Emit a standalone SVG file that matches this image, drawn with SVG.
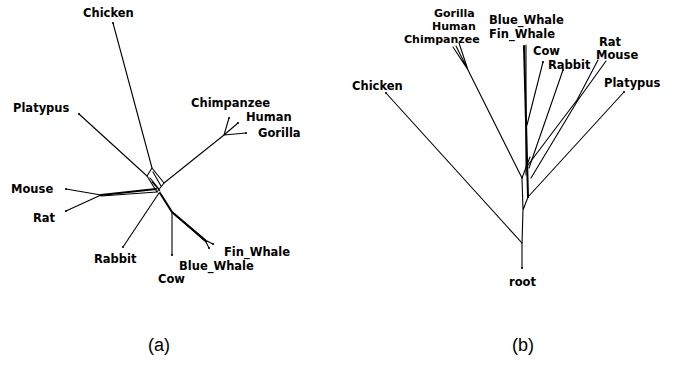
<svg xmlns="http://www.w3.org/2000/svg" width="674" height="365" viewBox="0 0 674 365">
<style>
.lbl{font-family:"DejaVu Sans",Verdana,sans-serif;font-weight:bold;font-size:11.5px;fill:#000}
.sm{font-size:11px}
.cap{font-family:"Liberation Sans",Arial,sans-serif;font-size:18px;fill:#000}
.e{stroke:#000;stroke-width:1.1;fill:none;stroke-linecap:round;stroke-linejoin:round}
.t{stroke:#000;stroke-width:2;fill:none;stroke-linecap:round}
.d{fill:#000}
</style>
<rect width="674" height="365" fill="#fff"/>
<g id="connectors-a">
<path class="e" d="M113,23 L152,168"/>
<path class="e" d="M79,114 L147,176"/>
<path class="e" d="M147,176 L152,168 L164,183 L157,192 Z"/>
<path class="e" d="M150,178 L159,189 M153,172 L161,186 M152,182 L160,191"/>
<path class="e" d="M224,135 L164,183"/>
<path class="e" d="M224,135 L229,118 M224,135 L238,123 M224,135 L246,133"/>
<path class="e" d="M66,189 L101,195 M66,211 L101,195"/>
<path class="t" d="M101,195 L156,189"/>
<path class="e" d="M101,196 L157,192"/>
<path class="e" d="M123,247 L159,193"/>
<path class="t" d="M160,193 L172,212 L205,240"/>
<path class="e" d="M173,213 L206,242"/>
<path class="e" d="M205,240 L213,244 M205,240 L209,248"/>
<path class="e" d="M172,213 L172,255"/>
</g>
<g id="connectors-b">
<path class="e" d="M522,268 L522,243 L386,93"/>
<path class="e" d="M522,243 L523,210 L522,178 M523,210 L528,197 L624,92"/>
<path class="t" d="M524,46 L528,197"/>
<path class="e" d="M526,45 L526,175"/>
<path class="e" d="M522,178 L468,70 L453,47 M468,70 L456,46 M468,70 L459,43"/>
<path class="e" d="M522,178 L530,157"/>
<path class="e" d="M543,62 L527,125"/>
<path class="e" d="M563,70 L529,168"/>
<path class="e" d="M598,60 L577,100 L528,165 M606,61 L578,100 L531,178"/>
</g>
<g id="tips">
<circle class="d" cx="113" cy="23" r="1"/><circle class="d" cx="79" cy="114" r="1"/>
<circle class="d" cx="229" cy="118" r="1"/><circle class="d" cx="238" cy="123" r="1"/><circle class="d" cx="246" cy="133" r="1"/>
<circle class="d" cx="66" cy="189" r="1"/><circle class="d" cx="66" cy="211" r="1"/>
<circle class="d" cx="123" cy="247" r="1"/><circle class="d" cx="172" cy="255" r="1"/>
<circle class="d" cx="213" cy="244" r="1"/><circle class="d" cx="209" cy="248" r="1"/>
<circle class="d" cx="522" cy="268" r="1"/><circle class="d" cx="386" cy="93" r="1"/>
<circle class="d" cx="624" cy="92" r="1"/><circle class="d" cx="543" cy="62" r="1"/><circle class="d" cx="563" cy="70" r="1"/>
</g>
<g id="a-Chicken"><text class="lbl" x="83" y="17">Chicken</text></g>
<g id="a-Platypus"><text class="lbl" x="13" y="112">Platypus</text></g>
<g id="a-Chimpanzee"><text class="lbl" x="191" y="107">Chimpanzee</text></g>
<g id="a-Human"><text class="lbl" x="246" y="121">Human</text></g>
<g id="a-Gorilla"><text class="lbl" x="258" y="137">Gorilla</text></g>
<g id="a-Mouse"><text class="lbl" x="11" y="193">Mouse</text></g>
<g id="a-Rat"><text class="lbl" x="33" y="222">Rat</text></g>
<g id="a-Rabbit"><text class="lbl" x="94" y="263">Rabbit</text></g>
<g id="a-Fin_Whale"><text class="lbl" x="224" y="256">Fin_Whale</text></g>
<g id="a-Blue_Whale"><text class="lbl" x="179" y="270">Blue_Whale</text></g>
<g id="a-Cow"><text class="lbl" x="158" y="283">Cow</text></g>
<g id="b-Gorilla"><text class="lbl sm" x="434" y="17">Gorilla</text></g>
<g id="b-Human"><text class="lbl sm" x="432" y="30">Human</text></g>
<g id="b-Chimpanzee"><text class="lbl sm" x="404" y="43">Chimpanzee</text></g>
<g id="b-Blue_Whale"><text class="lbl" x="489" y="24">Blue_Whale</text></g>
<g id="b-Fin_Whale"><text class="lbl" x="489" y="38">Fin_Whale</text></g>
<g id="b-Cow"><text class="lbl" x="533" y="55">Cow</text></g>
<g id="b-Rabbit"><text class="lbl" x="548" y="69">Rabbit</text></g>
<g id="b-Rat"><text class="lbl" x="599" y="46">Rat</text></g>
<g id="b-Mouse"><text class="lbl" x="596" y="59">Mouse</text></g>
<g id="b-Platypus"><text class="lbl" x="604" y="87">Platypus</text></g>
<g id="b-Chicken"><text class="lbl" x="352" y="90">Chicken</text></g>
<g id="b-root"><text class="lbl" x="509" y="286">root</text></g>
<g id="captions">
<text class="cap" x="148" y="351">(a)</text>
<text class="cap" x="512" y="351">(b)</text>
</g>
</svg>
